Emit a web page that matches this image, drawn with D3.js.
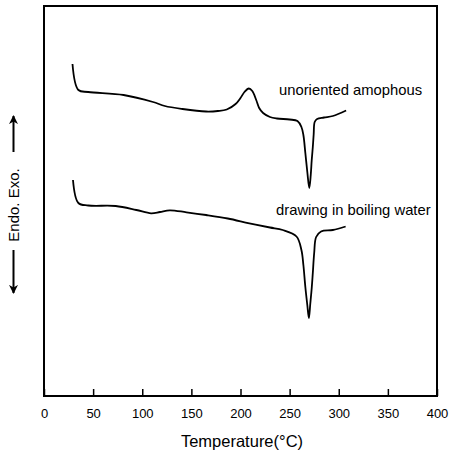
<!DOCTYPE html>
<html><head><meta charset="utf-8">
<script src="https://cdn.jsdelivr.net/npm/d3@7"></script>
<style>body{margin:0;background:#fff}svg{display:block}text{font-family:"Liberation Sans",Arial,sans-serif;fill:#000}</style>
</head><body><div id="chart"></div>
<script>
// Temperature (°C) and heat flow (arbitrary units, offset traces)
const tempUnoriented = [29, 35, 45, 81, 111, 123, 141, 165, 177, 186, 195, 200, 204, 208.5, 212, 216, 219, 223, 230, 237, 250, 258, 262, 264, 266, 268, 270, 271.5, 272.5, 273.6, 274.5, 275.5, 278, 285, 294, 307.5];
const flowUnoriented = [332, 306, 304, 301, 294, 290, 287, 284.5, 285, 286.5, 292, 298, 304, 307.5, 305, 296, 288, 283, 279, 277.5, 276.5, 275, 269, 261, 243, 224, 208, 221, 236, 249, 262, 274, 277, 278.5, 280, 285.5];
const tempBoiling = [29.5, 35, 45, 73, 94, 109, 118, 128, 145, 165, 187, 209, 230, 243, 257, 262, 264, 266, 268, 269.6, 271, 272.5, 273.6, 275, 277, 282, 294, 307];
const flowBoiling = [216, 193, 190.5, 190, 186, 182.7, 184, 185.7, 183.7, 181, 177.5, 172.7, 168.5, 166, 159.5, 146, 131, 109, 91, 78, 92, 108, 123, 143, 159, 164.5, 166, 169.5];
const xTicks = [0, 50, 100, 150, 200, 250, 300, 350, 400];
const labelUnoriented = "unoriented amophous";
const labelBoiling = "drawing in boiling water";
const xTitle = "Temperature(°C)";
const yLabel = "Endo.   Exo.";

const W = 451, H = 454;
const m = {l: 44, r: 14, t: 6, b: 58};
const svg = d3.select("#chart").append("svg").attr("width", W).attr("height", H);
const x = d3.scaleLinear().domain([0, 400]).range([m.l, W - m.r]);
const y = d3.scaleLinear().domain([0, 390]).range([H - m.b, m.t]);

// frame
svg.append("rect").attr("x", m.l).attr("y", m.t)
  .attr("width", W - m.r - m.l).attr("height", H - m.b - m.t)
  .attr("fill", "none").attr("stroke", "#000").attr("stroke-width", 2);

// x axis (ticks inward)
const ax = svg.append("g").attr("transform", `translate(0,${H - m.b})`)
  .call(d3.axisBottom(x).tickValues(xTicks).tickSizeInner(-7).tickSizeOuter(0).tickPadding(12.5).tickFormat(d3.format("d")));
ax.select(".domain").remove();
ax.selectAll("line").attr("stroke", "#000").attr("stroke-width", 1.5);
ax.selectAll("text").attr("font-size", 13).attr("font-family", "Liberation Sans, Arial, sans-serif").attr("fill", "#000");

svg.append("text").attr("x", 242).attr("y", 447).attr("text-anchor", "middle")
  .attr("font-size", 16.5).text(xTitle);

// y label with arrows
const yl = svg.append("g").attr("transform", "translate(19,205) rotate(-90)");
yl.append("text").attr("x", 0).attr("y", 0).attr("text-anchor", "middle").attr("font-size", 15).text(yLabel);
const defs = svg.append("defs");
defs.append("marker").attr("id", "ah").attr("viewBox", "0 0 10 10").attr("refX", 9).attr("refY", 5)
  .attr("markerWidth", 9).attr("markerHeight", 9).attr("markerUnits", "userSpaceOnUse").attr("orient", "auto")
  .append("path").attr("d", "M0,0 L10,5 L0,10 L3,5 Z").attr("fill", "#000");
svg.append("line").attr("x1", 13.5).attr("x2", 13.5).attr("y1", 152).attr("y2", 116)
  .attr("stroke", "#000").attr("stroke-width", 2).attr("marker-end", "url(#ah)");
svg.append("line").attr("x1", 13.5).attr("x2", 13.5).attr("y1", 250).attr("y2", 293)
  .attr("stroke", "#000").attr("stroke-width", 2).attr("marker-end", "url(#ah)");

// curves
const line = d3.line().x(d => x(d[0])).y(d => y(d[1])).curve(d3.curveCatmullRom.alpha(0.5));
svg.append("path").datum(d3.zip(tempUnoriented, flowUnoriented)).attr("d", line)
  .attr("fill", "none").attr("stroke", "#000").attr("stroke-width", 1.8);
svg.append("path").datum(d3.zip(tempBoiling, flowBoiling)).attr("d", line)
  .attr("fill", "none").attr("stroke", "#000").attr("stroke-width", 1.8);

// annotations
svg.append("text").attr("x", 279).attr("y", 94.5).attr("font-size", 14.8).text(labelUnoriented);
svg.append("text").attr("x", 276).attr("y", 215).attr("font-size", 14.8).text(labelBoiling);
</script></body></html>
